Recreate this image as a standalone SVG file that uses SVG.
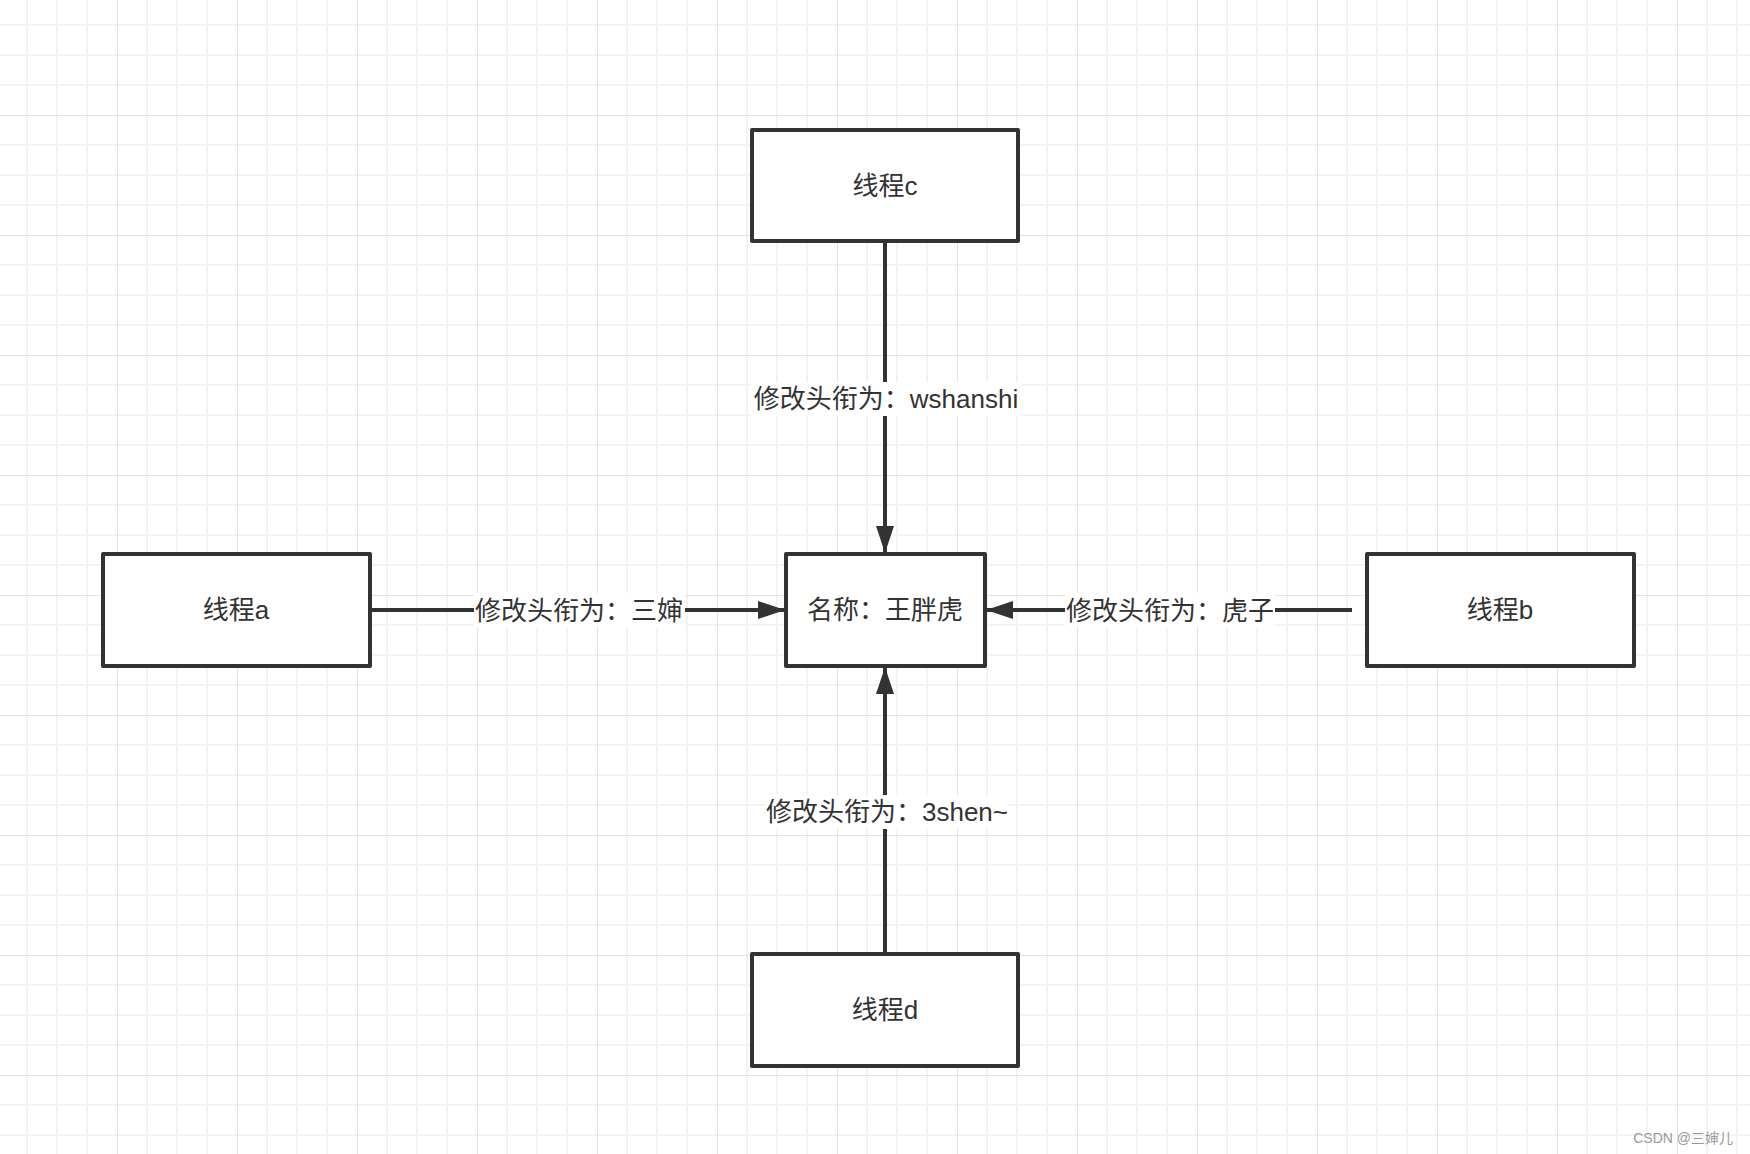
<svg xmlns="http://www.w3.org/2000/svg" width="1750" height="1154" viewBox="0 0 1750 1154">
<defs>
<pattern id="grid" patternUnits="userSpaceOnUse" x="-3" y="-5" width="120" height="120">
<path d="M30 0V120M60 0V120M90 0V120M0 30H120M0 60H120M0 90H120" stroke="#f3f3f3" stroke-width="2" fill="none"/>
<path d="M0 0V120M0 0H120" stroke="#e3e3e3" stroke-width="2" fill="none"/>
</pattern>
<marker id="arr" markerUnits="userSpaceOnUse" markerWidth="30" markerHeight="20" refX="27" refY="9" orient="auto" viewBox="0 0 30 18">
<path d="M0 0L27 9L0 18Z" fill="#333333"/>
</marker>
<style>
.box{fill:#ffffff;stroke:#333333;stroke-width:4;stroke-linejoin:round}
.t{font-family:"Liberation Sans","Noto Sans CJK SC",sans-serif;font-size:26px;fill:#333333;text-anchor:middle;dominant-baseline:central}
.edge{stroke:#333333;stroke-width:4;fill:none}
.lbg{fill:#ffffff}
</style>
</defs>
<rect width="1750" height="1154" fill="#ffffff"/>
<rect width="1750" height="1154" fill="url(#grid)"/>
<g id="connectors">
<line class="edge" x1="885" y1="241" x2="885" y2="553" marker-end="url(#arr)"/>
<line class="edge" x1="370" y1="610" x2="785" y2="610" marker-end="url(#arr)"/>
<line class="edge" x1="1352" y1="610" x2="986" y2="610" marker-end="url(#arr)"/>
<line class="edge" x1="885" y1="953" x2="885" y2="667" marker-end="url(#arr)"/>
<rect class="lbg" x="751" y="382" width="270" height="34"/>
<text class="t" x="886" y="399">修改头衔为：wshanshi</text>
<rect class="lbg" x="474" y="593" width="211" height="34"/>
<text class="t" x="579" y="611">修改头衔为：三婶</text>
<rect class="lbg" x="1065" y="593" width="210" height="34"/>
<text class="t" x="1170" y="611">修改头衔为：虎子</text>
<rect class="lbg" x="765" y="795" width="244" height="34"/>
<text class="t" x="887" y="812">修改头衔为：3shen~</text>
</g>
<g id="thread-c">
<rect class="box" x="752" y="130" width="266" height="111"/>
<text class="t" x="885" y="186">线程c</text>
</g>
<g id="thread-a">
<rect class="box" x="103" y="554" width="267" height="112"/>
<text class="t" x="236" y="610">线程a</text>
</g>
<g id="center">
<rect class="box" x="786" y="554" width="199" height="112"/>
<text class="t" x="885" y="610">名称：王胖虎</text>
</g>
<g id="thread-b">
<rect class="box" x="1367" y="554" width="267" height="112"/>
<text class="t" x="1500" y="610">线程b</text>
</g>
<g id="thread-d">
<rect class="box" x="752" y="954" width="266" height="112"/>
<text class="t" x="885" y="1010">线程d</text>
</g>
<text x="1733" y="1143" font-family="'Liberation Sans','Noto Sans CJK SC',sans-serif" font-size="14" fill="#999999" text-anchor="end">CSDN @三婶儿</text>
</svg>
